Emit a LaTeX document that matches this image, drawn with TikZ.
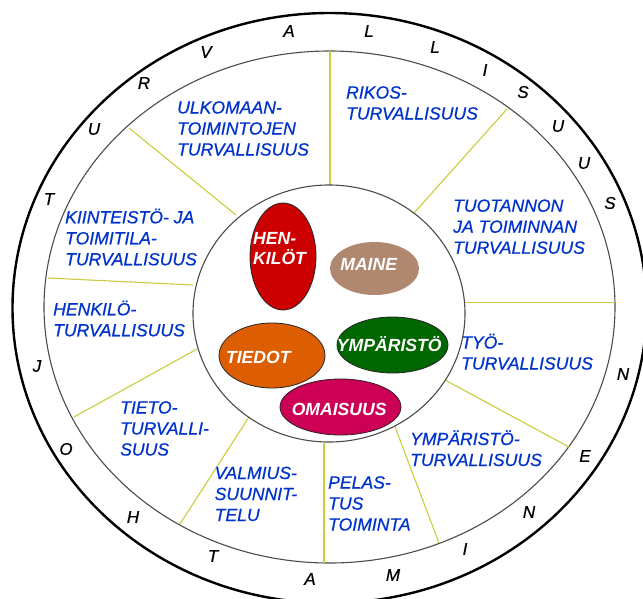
\documentclass[tikz,border=0pt]{standalone}
\usepackage{fontspec}
\setmainfont{Liberation Sans}
\newfontfamily\heavyish[FakeBold=0.7]{Liberation Sans}
\usetikzlibrary{shapes.geometric}
\definecolor{txtblue}{RGB}{0,51,204}
\definecolor{spokecol}{RGB}{204,204,60}
\definecolor{henred}{RGB}{204,0,0}
\definecolor{mainetan}{RGB}{176,136,112}
\definecolor{tiedotorange}{RGB}{221,94,0}
\definecolor{ympgreen}{RGB}{0,102,0}
\definecolor{omaimag}{RGB}{204,0,85}
\newcommand{\seclines}[1]{\begin{tabular}[t]{@{}l@{}}#1\end{tabular}}
\begin{document}
\begin{tikzpicture}[x=1pt,y=-1pt,
  ring/.style={draw=black!70, line width=1.1pt},
  spoke/.style={draw=spokecol, line width=1.1pt},
  sector/.style={inner sep=0pt, anchor=base west, text=txtblue, font=\heavyish\fontsize{17.6}{21}\selectfont\itshape},
  ringletter/.style={inner sep=0pt, font=\heavyish\fontsize{17}{20}\selectfont\itshape},
  blob/.style={ellipse, inner sep=0pt, draw=black!85, line width=0.8pt},
  blobtext/.style={inner sep=0pt, anchor=base, text=white, font=\fontsize{17.6}{20}\selectfont\bfseries\itshape}]
\useasboundingbox (0,0) rectangle (643,598);
\fill[white] (0,0) rectangle (643,598);
% rings
\draw[line width=2.4pt] (329.5,308) ellipse [x radius=317, y radius=295];
\draw[ring] (329.5,307) ellipse [x radius=285.5, y radius=256];
% spokes
\draw[spoke] (330,51) -- (330,185);
\draw[spoke] (129,128) -- (236,215);
\draw[spoke] (507,109) -- (414,213);
\draw[spoke] (48,278) -- (193,285);
\draw[spoke] (463,302.5) -- (615,302.5);
\draw[spoke] (197,349) -- (74,417);
\draw[spoke] (445,380) -- (569,447);
\draw[spoke] (249,417) -- (180,524);
\draw[spoke] (324,443) -- (324,563);
\draw[spoke] (394,424) -- (439,543);
% inner circle
\draw[ring, fill=white] (329,313.5) ellipse [x radius=136, y radius=128.5];
% sector texts
\node[sector] (s1) at (177,113.5) {\seclines{ULKOMAAN-\\TOIMINTOJEN\\TURVALLISUUS}};
\node[sector] (s2) at (346,98.5) {\seclines{RIKOS-\\TURVALLISUUS}};
\node[sector] (s3) at (453,211.7) {\seclines{TUOTANNON\\JA TOIMINNAN\\TURVALLISUUS}};
\node[sector] (s4) at (65,223.3) {\seclines{KIINTEISTÖ- JA\\TOIMITILA-\\TURVALLISUUS}};
\node[sector] (s5) at (53,315.3) {\seclines{HENKILÖ-\\TURVALLISUUS}};
\node[sector] (s6) at (461,348.5) {\seclines{TYÖ-\\TURVALLISUUS}};
\node[sector] (s7) at (410,445) {\seclines{YMPÄRISTÖ-\\TURVALLISUUS}};
\node[sector] (s8) at (120,413.5) {\seclines{TIETO-\\TURVALLI-\\SUUS}};
\node[sector] (s9) at (214.5,479) {\seclines{VALMIUS-\\SUUNNIT-\\TELU}};
\node[sector] (s10) at (328,488.5) {\seclines{PELAS-\\TUS\\TOIMINTA}};
% ring letters
\node[ringletter] (a1) at (49,199) {T};
\node[ringletter] (a2) at (94,129) {U};
\node[ringletter] (a3) at (144,83) {R};
\node[ringletter] (a4) at (206,52) {V};
\node[ringletter] (a5) at (289,31) {A};
\node[ringletter] (a6) at (369,31) {L};
\node[ringletter] (a7) at (435,47) {L};
\node[ringletter] (a8) at (485,70) {I};
\node[ringletter] (a9) at (523,92) {S};
\node[ringletter] (a10) at (558,126) {U};
\node[ringletter] (a11) at (584,163) {U};
\node[ringletter] (a12) at (610,203) {S};
\node[ringletter] (b1) at (37,366) {J};
\node[ringletter] (b2) at (66,449) {O};
\node[ringletter] (b3) at (133,517) {H};
\node[ringletter] (b4) at (213,556) {T};
\node[ringletter] (b5) at (310,579) {A};
\node[ringletter] (b6) at (393,575) {M};
\node[ringletter] (b7) at (465,549) {I};
\node[ringletter] (b8) at (529,512) {N};
\node[ringletter] (b9) at (585,456) {E};
\node[ringletter] (b10) at (623,374) {N};
% blobs
\node[blob, fill=henred, minimum width=66pt, minimum height=107pt] (hen) at (283,256.5) {};
\node[blob, draw=none, fill=mainetan, minimum width=89pt, minimum height=53pt] (maine) at (374.5,268.5) {};
\node[blob, fill=tiedotorange, minimum width=106pt, minimum height=65pt] (tiedot) at (272,355.5) {};
\node[blob, fill=ympgreen, minimum width=111pt, minimum height=56pt] (ymp) at (392.5,345) {};
\node[blob, fill=omaimag, minimum width=121pt, minimum height=56pt] (omai) at (340.5,407) {};
% blob texts
\node[blobtext, anchor=base west] (then) at (253,244.3) {\begin{tabular}[t]{@{}l@{}}HEN-\\[-1pt]KILÖT\end{tabular}};
\node[blobtext] (tmaine) at (368.7,270) {MAINE};
\node[blobtext] (ttiedot) at (258.3,363) {TIEDOT};
\node[blobtext] (tymp) at (389.3,351.7) {YMPÄRISTÖ};
\node[blobtext] (tomai) at (339.2,415) {OMAISUUS};
\end{tikzpicture}
\end{document}
